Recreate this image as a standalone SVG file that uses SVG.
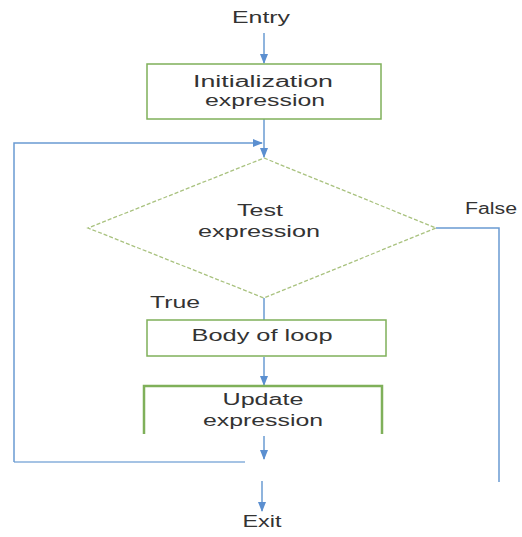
<svg xmlns="http://www.w3.org/2000/svg" width="522" height="537" viewBox="0 0 522 537">
<defs>
<marker id="ah" markerWidth="10" markerHeight="8" refX="9" refY="4" orient="auto" markerUnits="userSpaceOnUse">
<path d="M0,0 L10,4 L0,8 z" fill="#5b8fd0"/>
</marker>
<style>
.t{font-family:"Liberation Sans",Arial,sans-serif;font-size:16px;fill:#333;text-anchor:middle}
.box{fill:#fff;stroke:#7fb05a;stroke-width:1.5}
.ln{fill:none;stroke:#6a9bd2;stroke-width:1.5}
</style>
</defs>
<rect width="522" height="537" fill="#fff"/>
<g id="connectors">
<path class="ln" d="M264,33 V63" marker-end="url(#ah)"/>
<path class="ln" d="M264,119 V157" marker-end="url(#ah)"/>
<path class="ln" d="M14,462 V143 H262" marker-end="url(#ah)"/>
<path class="ln" d="M264,298 V320"/>
<path class="ln" d="M264,357 V385" marker-end="url(#ah)"/>
<path class="ln" d="M264,436 V459" marker-end="url(#ah)"/>
<path class="ln" d="M14,462 H245" stroke-opacity="0.8"/>
<path class="ln" d="M436,228 H499 V482"/>
<path class="ln" d="M262,481 V511" marker-end="url(#ah)"/>
</g>
<g id="entry"><text class="t" x="261" y="23" textLength="58" lengthAdjust="spacingAndGlyphs">Entry</text></g>
<g id="init">
<rect class="box" x="147" y="64" width="234" height="55"/>
<text class="t" x="263" y="87" textLength="140" lengthAdjust="spacingAndGlyphs">Initialization</text>
<text class="t" x="265" y="106" textLength="120" lengthAdjust="spacingAndGlyphs">expression</text>
</g>
<g id="test">
<polygon points="264,158 436,228 264,298 88,228" fill="#fff" stroke="#a9c27f" stroke-width="1.3" stroke-dasharray="4,2"/>
<text class="t" x="260" y="216" textLength="46" lengthAdjust="spacingAndGlyphs">Test</text>
<text class="t" x="259" y="237" textLength="122" lengthAdjust="spacingAndGlyphs">expression</text>
</g>
<g id="false-label"><text class="t" x="465" y="214" style="text-anchor:start" textLength="52" lengthAdjust="spacingAndGlyphs">False</text></g>
<g id="true-label"><text class="t" x="175" y="308" textLength="50" lengthAdjust="spacingAndGlyphs">True</text></g>
<g id="body">
<rect class="box" x="147" y="320" width="239" height="36"/>
<text class="t" x="262" y="341" textLength="141" lengthAdjust="spacingAndGlyphs">Body of loop</text>
</g>
<g id="update">
<path d="M144,434 V386 H382 V434" fill="#fff" stroke="#7fb05a" stroke-width="2.5"/>
<path d="M144,386 H382" stroke="#7fb05a" stroke-width="1.5"/>
<text class="t" x="263" y="405" textLength="81" lengthAdjust="spacingAndGlyphs">Update</text>
<text class="t" x="263" y="426" textLength="120" lengthAdjust="spacingAndGlyphs">expression</text>
</g>
<g id="exit"><text class="t" x="262" y="527" textLength="39" lengthAdjust="spacingAndGlyphs">Exit</text></g>
</svg>
